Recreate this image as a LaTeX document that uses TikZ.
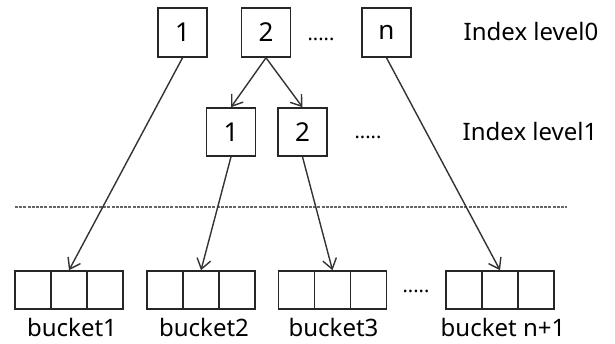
\documentclass[tikz,border=0pt]{standalone}
\usepackage{fontspec}
\setmainfont{Noto Sans}
\usetikzlibrary{arrows.meta}
\begin{document}
\begin{tikzpicture}[x=1pt,y=-1pt,
  idxbox/.style={draw=black!85,line width=1.6pt,minimum width=49pt,minimum height=49pt,inner sep=0pt,font=\fontsize{26}{28}\selectfont},
  cell/.style={draw=black!85,line width=1.6pt,minimum width=36pt,minimum height=38pt,inner sep=0pt},
  link/.style={draw=black!80,line width=1.4pt,-{Straight Barb[length=10pt,width=14pt,line width=1.4pt]}},
  lbl/.style={font=\fontsize{24}{26}\selectfont,inner sep=0pt,anchor=base},
  lvl/.style={font=\fontsize{24}{26}\selectfont,inner sep=0pt,anchor=base},
  dotstxt/.style={font=\fontsize{20}{22}\selectfont,inner sep=0pt,anchor=base}]
\useasboundingbox (0,0) rectangle (615,344);
% level 0
\node[idxbox] (a1) at (182.5,32.5) {1};
\node[idxbox] (a2) at (266,32.5) {2};
\node[idxbox] (an) at (386.5,32.5) {n};
\node[dotstxt] (d0) at (321,41) {.....};
\node[lvl] (l0) at (531,41) {Index level0};
% level 1
\node[idxbox,minimum height=48pt] (b1) at (231,132) {1};
\node[idxbox,minimum height=48pt] (b2) at (302.5,132) {2};
\node[dotstxt] (d1) at (368,139) {.....};
\node[lvl] (l1) at (530,141) {Index level1};
% separator
\coordinate (s1) at (15,207);
\coordinate (s2) at (567,207);
\draw[black!60,line width=1.2pt,dash pattern=on 3pt off 1.2pt] (s1) -- (s2);
% buckets
\foreach \n/\x in {1/33,2/165,3/296.5,4/464}{
  \node[cell] (c\n a) at (\x,290) {};
  \node[cell] (c\n b) at (\x+36,290) {};
  \node[cell] (c\n c) at (\x+72,290) {};
}
\node[dotstxt] (d2) at (416,292) {.....};
\node[lbl] (t1) at (72,336) {bucket1};
\node[lbl] (t2) at (204,336) {bucket2};
\node[lbl] (t3) at (333.5,336) {bucket3};
\node[lbl] (t4) at (503,336) {bucket n+1};
% links
\draw[link] (a2.south) -- (b1.north);
\draw[link] (a2.south) -- (b2.north);
\draw[link] (a1.south) -- (c1b.north);
\draw[link] (b1.south) -- (c2b.north);
\draw[link] (b2.south) -- (c3b.north);
\draw[link] (an.south) -- (c4b.north);
\end{tikzpicture}
\end{document}
